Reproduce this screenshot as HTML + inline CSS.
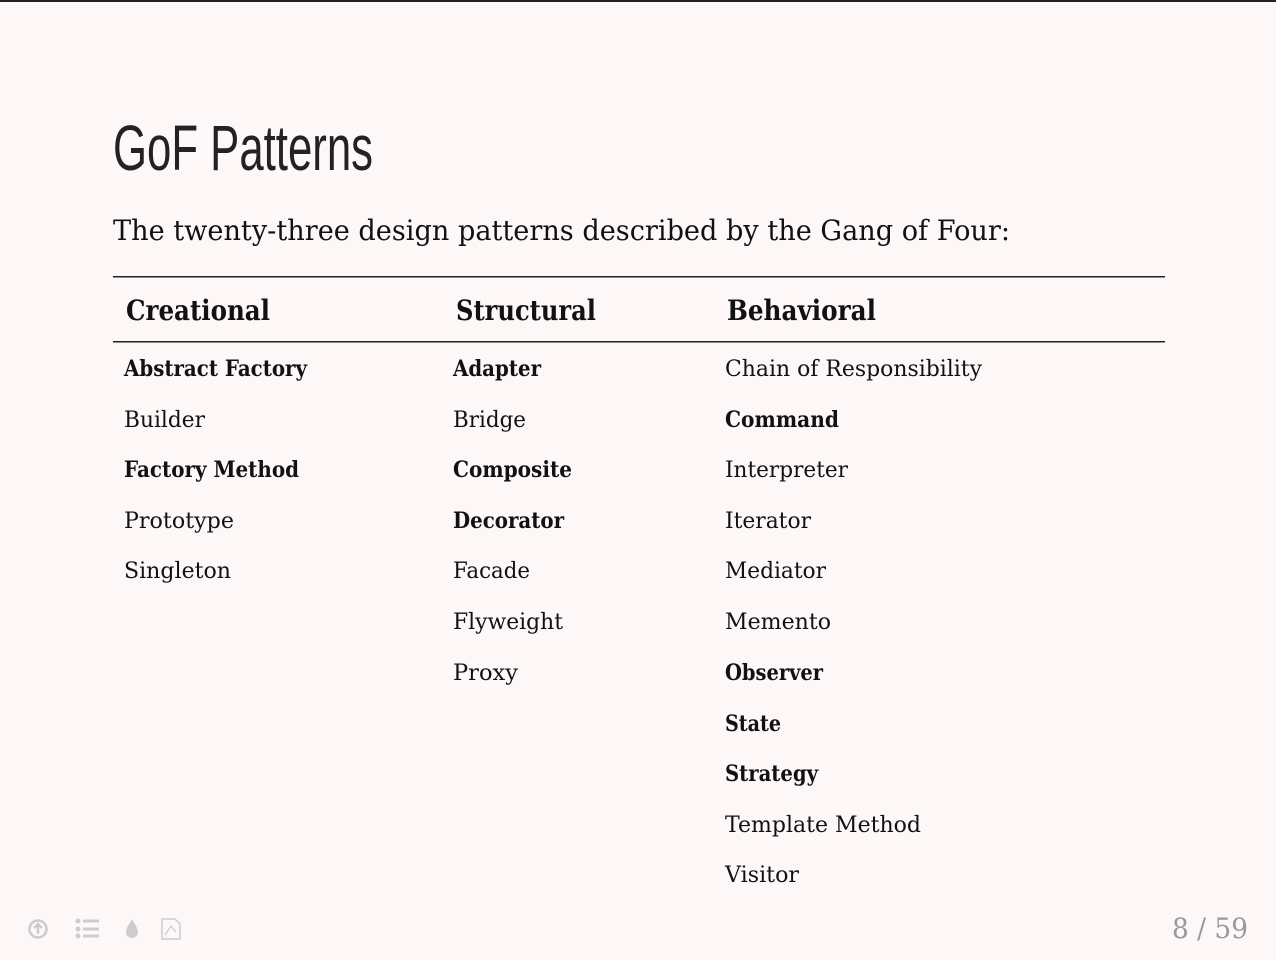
<!DOCTYPE html>
<html><head><meta charset="utf-8"><style>
html,body{margin:0;padding:0;background:#fdf7f7;}
svg{display:block}
.s{font-family:"DejaVu Serif","Liberation Serif",serif;fill:#111;}
.b{font-weight:bold}
</style></head><body>
<svg width="1276" height="960" viewBox="0 0 1276 960" xmlns="http://www.w3.org/2000/svg">
<rect width="1276" height="960" fill="#fdf7f7"/>
<rect width="1276" height="2" fill="#222"/>
<text x="113" y="170" font-family="'Liberation Sans',sans-serif" font-size="64" fill="#222" textLength="260" lengthAdjust="spacingAndGlyphs">GoF Patterns</text>
<text class="s" x="113" y="240" font-size="28" fill="#222" textLength="897" lengthAdjust="spacingAndGlyphs">The twenty-three design patterns described by the Gang of Four:</text>
<rect x="113" y="276" width="1052" height="1.5" fill="#222"/>
<rect x="113" y="341" width="1052" height="1.5" fill="#222"/>
<g class="s b" font-size="28">
<text class="s b" x="126" y="320" textLength="144" lengthAdjust="spacingAndGlyphs">Creational</text>
<text class="s b" x="456" y="320" textLength="140" lengthAdjust="spacingAndGlyphs">Structural</text>
<text class="s b" x="727" y="320" textLength="149" lengthAdjust="spacingAndGlyphs">Behavioral</text>
</g>
<g font-size="22">
<text class="s b" x="124" y="376" textLength="183" lengthAdjust="spacingAndGlyphs">Abstract Factory</text>
<text class="s" x="124" y="427" textLength="81" lengthAdjust="spacingAndGlyphs">Builder</text>
<text class="s b" x="124" y="477" textLength="175" lengthAdjust="spacingAndGlyphs">Factory Method</text>
<text class="s" x="124" y="528" textLength="110" lengthAdjust="spacingAndGlyphs">Prototype</text>
<text class="s" x="124" y="578" textLength="107" lengthAdjust="spacingAndGlyphs">Singleton</text>

<text class="s b" x="453" y="376" textLength="88" lengthAdjust="spacingAndGlyphs">Adapter</text>
<text class="s" x="453" y="427" textLength="73" lengthAdjust="spacingAndGlyphs">Bridge</text>
<text class="s b" x="453" y="477" textLength="119" lengthAdjust="spacingAndGlyphs">Composite</text>
<text class="s b" x="453" y="528" textLength="111" lengthAdjust="spacingAndGlyphs">Decorator</text>
<text class="s" x="453" y="578" textLength="77" lengthAdjust="spacingAndGlyphs">Facade</text>
<text class="s" x="453" y="629" textLength="110" lengthAdjust="spacingAndGlyphs">Flyweight</text>
<text class="s" x="453" y="680" textLength="65" lengthAdjust="spacingAndGlyphs">Proxy</text>

<text class="s" x="725" y="376" textLength="257" lengthAdjust="spacingAndGlyphs">Chain of Responsibility</text>
<text class="s b" x="725" y="427" textLength="114" lengthAdjust="spacingAndGlyphs">Command</text>
<text class="s" x="725" y="477" textLength="123" lengthAdjust="spacingAndGlyphs">Interpreter</text>
<text class="s" x="725" y="528" textLength="86" lengthAdjust="spacingAndGlyphs">Iterator</text>
<text class="s" x="725" y="578" textLength="101" lengthAdjust="spacingAndGlyphs">Mediator</text>
<text class="s" x="725" y="629" textLength="106" lengthAdjust="spacingAndGlyphs">Memento</text>
<text class="s b" x="725" y="680" textLength="98" lengthAdjust="spacingAndGlyphs">Observer</text>
<text class="s b" x="725" y="731" textLength="56" lengthAdjust="spacingAndGlyphs">State</text>
<text class="s b" x="725" y="781" textLength="93" lengthAdjust="spacingAndGlyphs">Strategy</text>
<text class="s" x="725" y="832" textLength="196" lengthAdjust="spacingAndGlyphs">Template Method</text>
<text class="s" x="725" y="882" textLength="74" lengthAdjust="spacingAndGlyphs">Visitor</text>
</g>
<text x="1172" y="938" font-family="'DejaVu Serif',serif" font-size="28" fill="#999" textLength="76" lengthAdjust="spacingAndGlyphs">8 / 59</text>
<g fill="#ccc" stroke="#ccc">
<circle cx="38" cy="929" r="8.5" fill="none" stroke-width="2.5"/>
<path d="M38 934 V925 M34 928 L38 924 L42 928" fill="none" stroke-width="2.5"/>
<circle cx="78" cy="921" r="2.5" stroke="none"/><circle cx="78" cy="929" r="2.5" stroke="none"/><circle cx="78" cy="936" r="2.5" stroke="none"/>
<rect x="83" y="919.5" width="16" height="3" stroke="none"/><rect x="83" y="927.5" width="16" height="3" stroke="none"/><rect x="83" y="934.5" width="16" height="3" stroke="none"/>
<path d="M132 919 C129 925 126 928 126 932 A6 6 0 0 0 138 932 C138 928 135 925 132 919Z" stroke="none"/>
<path d="M162 919 H175 L180 924 V939 H162 Z" fill="none" stroke-width="1.5"/>
<path d="M165 935 L171 926 L176 932" fill="none" stroke-width="1.2"/>
</g>
</svg>
</body></html>
